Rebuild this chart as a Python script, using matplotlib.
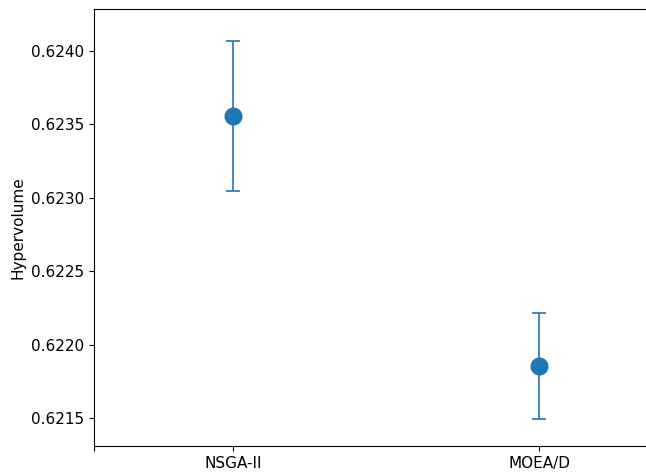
import matplotlib.pyplot as plt

# Datos
algoritmos = ['NSGA-II', 'MOEA/D']
posiciones = [1, 2]
hv_medio = [0.623557, 0.621854]
hv_error = [0.000514, 0.000361]

plt.rcParams['font.size'] = 11

fig = plt.figure(figsize=(6.46, 4.74), dpi=100)
ax = fig.add_axes([94 / 646, 28 / 474, 0.905, 437 / 474])

ax.errorbar(posiciones, hv_medio, yerr=hv_error, fmt='o', color='#1f77b4',
            markersize=12, capsize=5, elinewidth=1.2, capthick=1.2)

ax.set_xlim(0.546, 2.456)
ax.set_ylim(0.621309, 0.624286)
ax.set_xticks([0.546] + posiciones)
ax.set_xticklabels([''] + algoritmos)
ax.set_yticks([0.6215, 0.6220, 0.6225, 0.6230, 0.6235, 0.6240])
ax.set_yticklabels(['0.6215', '0.6220', '0.6225', '0.6230', '0.6235', '0.6240'])
ax.set_ylabel('Hypervolume')
ax.spines['right'].set_visible(False)

fig.savefig('out.png', dpi=100)
